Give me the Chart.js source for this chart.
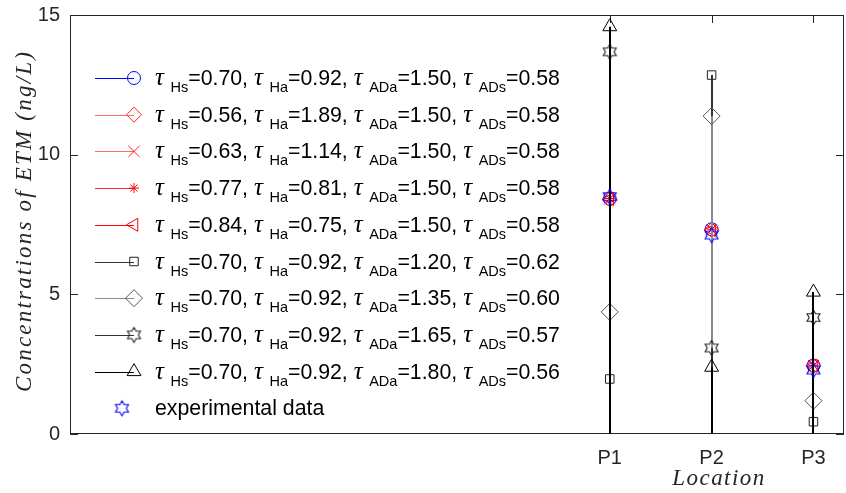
<!DOCTYPE html>
<html><head><meta charset="utf-8">
<script src="https://cdn.jsdelivr.net/npm/chart.js@4/dist/chart.umd.min.js"></script>
<style>html,body{margin:0;padding:0;background:#fff;}#wrap{width:846px;height:493px;}</style>
</head><body><div id="wrap"><canvas id="c" width="846" height="493"></canvas></div>
<script>
// ---- data ----
const locations = ['P1', 'P2', 'P3'];
const tauHs  = [0.70, 0.56, 0.63, 0.77, 0.84, 0.70, 0.70, 0.70, 0.70];
const tauHa  = [0.92, 1.89, 1.14, 0.81, 0.75, 0.92, 0.92, 0.92, 0.92];
const tauADa = [1.50, 1.50, 1.50, 1.50, 1.50, 1.20, 1.35, 1.65, 1.80];
const tauADs = [0.58, 0.58, 0.58, 0.58, 0.58, 0.62, 0.60, 0.57, 0.56];
const run1 = [8.42, 7.33, 2.45];
const run2 = [8.40, 7.30, 2.44];
const run3 = [8.42, 7.31, 2.45];
const run4 = [8.43, 7.33, 2.46];
const run5 = [8.41, 7.30, 2.44];
const run6 = [1.97, 12.85, 0.44];
const run7 = [4.37, 11.38, 1.19];
const run8 = [13.68, 3.08, 4.17];
const run9 = [14.58, 2.39, 5.08];
const experimental = [8.50, 7.12, 2.29];
const expLabel = 'experimental data';
const xTitle = 'Location';
const yTitle = 'Concentrations of ETM (ng/L)';

// ---- hexagram marker ----
function hexagram(color, r) {
  const s = Math.ceil(r * 2 + 4);
  const c = document.createElement('canvas');
  c.width = s; c.height = s;
  const g = c.getContext('2d');
  const cx = s / 2, cy = s / 2, ri = r * 0.577;
  g.beginPath();
  for (let k = 0; k < 12; k++) {
    const a = -Math.PI / 2 + k * Math.PI / 6;
    const rr = k % 2 === 0 ? r : ri;
    const px = cx + rr * Math.cos(a), py = cy + rr * Math.sin(a);
    if (k === 0) g.moveTo(px, py); else g.lineTo(px, py);
  }
  g.closePath();
  g.strokeStyle = color; g.lineWidth = 1.1; g.stroke();
  return c;
}

const runs = [run1, run2, run3, run4, run5, run6, run7, run8, run9];
const styles = [
  {stem: '#0000ff', mk: '#0000ff', ps: 'circle', r: 6.5, rot: 0},
  {stem: '#ff6a6a', mk: '#ff2020', ps: 'rectRot', r: 7.5, rot: 0},
  {stem: '#ff6a6a', mk: '#ff2020', ps: 'crossRot', r: 8, rot: 0},
  {stem: '#ff2a2a', mk: '#ff0000', ps: 'star', r: 5, rot: 0},
  {stem: '#ff0000', mk: '#ff0000', ps: 'triangle', r: 7.5, rot: -90},
  {stem: '#333333', mk: '#222222', ps: 'rect', r: 6, rot: 0},
  {stem: '#8a8a8a', mk: '#555555', ps: 'rectRot', r: 8.5, rot: 0},
  {stem: '#333333', mk: '#222222', ps: hexagram('#222222', 7.5), r: 8, rot: 0},
  {stem: '#000000', mk: '#000000', ps: 'triangle', r: 8, rot: 0}
];
const toXY = arr => arr.map((v, i) => ({x: i + 1, y: v}));
const datasets = runs.map((arr, i) => ({
  label: 'run' + (i + 1),
  data: toXY(arr),
  stem: true,
  stemColor: styles[i].stem,
  pointStyle: styles[i].ps,
  pointRadius: styles[i].r,
  pointRotation: styles[i].rot,
  pointBorderColor: styles[i].mk,
  pointBackgroundColor: 'rgba(0,0,0,0)',
  pointBorderWidth: 1,
  showLine: false,
  order: 20 - i
}));
datasets.push({
  label: expLabel,
  data: toXY(experimental),
  stem: false,
  pointStyle: hexagram('#0000ff', 7.5),
  pointRadius: 8,
  pointBorderColor: '#0000ff',
  pointBackgroundColor: 'rgba(0,0,0,0)',
  pointBorderWidth: 1,
  showLine: false,
  order: 0
});

const AX = '#262626';
function spacedText(ctx, text, font, target) {
  ctx.font = font;
  ctx.letterSpacing = '0px';
  const w = ctx.measureText(text).width;
  const sp = (target - w) / Math.max(1, text.length - 1);
  ctx.letterSpacing = sp.toFixed(2) + 'px';
}
const plug = {
  id: 'matlabLook',
  beforeDatasetsDraw(chart) {
    const {ctx, chartArea: a, scales} = chart;
    ctx.save();
    ctx.strokeStyle = AX; ctx.lineWidth = 1;
    ctx.strokeRect(Math.round(a.left) + 0.5, Math.round(a.top) + 0.5,
                   Math.round(a.right - a.left) - 1, Math.round(a.bottom - a.top) - 1);
    const tl = 8;
    ctx.beginPath();
    scales.y.ticks.forEach(t => {
      const y = Math.round(scales.y.getPixelForValue(t.value)) + 0.5;
      ctx.moveTo(a.left, y); ctx.lineTo(a.left + tl, y);
      ctx.moveTo(a.right, y); ctx.lineTo(a.right - tl, y);
    });
    scales.x.ticks.forEach(t => {
      const x = Math.round(scales.x.getPixelForValue(t.value)) + 0.5;
      ctx.moveTo(x, a.bottom); ctx.lineTo(x, a.bottom - tl);
      ctx.moveTo(x, a.top); ctx.lineTo(x, a.top + tl);
    });
    ctx.stroke();
    ctx.restore();
  },
  beforeDatasetDraw(chart, args) {
    const ds = chart.data.datasets[args.index];
    if (!ds.stem) return;
    const ctx = chart.ctx;
    const y0 = chart.scales.y.getPixelForValue(0);
    ctx.save();
    ctx.strokeStyle = ds.stemColor; ctx.lineWidth = 2;
    args.meta.data.forEach(pt => {
      const x = Math.round(pt.x);
      ctx.beginPath(); ctx.moveTo(x, y0); ctx.lineTo(x, pt.y); ctx.stroke();
    });
    ctx.restore();
  },
  afterDraw(chart) {
    const ctx = chart.ctx;
    ctx.save();
    // legend
    const rowY0 = 78, rowH = 36.7;
    const mainFont = '21.3px "Liberation Sans", Arial, sans-serif';
    const subFont = '14.5px "Liberation Sans", Arial, sans-serif';
    const tauFont = 'italic 25px "Liberation Serif", serif';
    const tauAdv = 15.5;
    chart.data.datasets.forEach((ds, i) => {
      const yc = rowY0 + i * rowH;
      ctx.lineWidth = 1;
      if (ds.stem) {
        ctx.strokeStyle = ds.stemColor;
        ctx.beginPath(); ctx.moveTo(95, Math.round(yc) + 0.5); ctx.lineTo(134, Math.round(yc) + 0.5); ctx.stroke();
      }
      const mx = ds.stem ? 134 : 122;
      ctx.strokeStyle = ds.pointBorderColor; ctx.fillStyle = 'rgba(0,0,0,0)';
      Chart.helpers.drawPoint(ctx, {pointStyle: ds.pointStyle, rotation: ds.pointRotation || 0,
        radius: ds.pointRadius, borderWidth: 1}, mx, yc);
      ctx.fillStyle = '#000'; ctx.textBaseline = 'alphabetic'; ctx.textAlign = 'left';
      let x = 155;
      if (!ds.stem) {
        ctx.font = mainFont; ctx.fillText(ds.label, x, yc + 7);
        return;
      }
      const parts = [
        ['τ', 'tau'], ['Hs', 'sub'], ['=' + tauHs[i].toFixed(2) + ', ', 'main'],
        ['τ', 'tau'], ['Ha', 'sub'], ['=' + tauHa[i].toFixed(2) + ', ', 'main'],
        ['τ', 'tau'], ['ADa', 'sub'], ['=' + tauADa[i].toFixed(2) + ', ', 'main'],
        ['τ', 'tau'], ['ADs', 'sub'], ['=' + tauADs[i].toFixed(2), 'main']
      ];
      parts.forEach(([t, k]) => {
        if (k === 'tau') {
          ctx.font = tauFont; ctx.fillText(t, x, yc + 7); x += tauAdv;
        } else if (k === 'sub') {
          ctx.font = subFont; ctx.fillText(t, x, yc + 14); x += ctx.measureText(t).width;
        } else {
          ctx.font = mainFont; ctx.fillText(t, x, yc + 7); x += ctx.measureText(t).width;
        }
      });
    });
    // axis titles
    ctx.fillStyle = '#262626';
    ctx.textAlign = 'center'; ctx.textBaseline = 'middle';
    spacedText(ctx, xTitle, 'italic 23px "Liberation Serif", serif', 92);
    ctx.fillText(xTitle, 719, 479);
    spacedText(ctx, yTitle, 'italic 23px "Liberation Serif", serif', 340);
    ctx.translate(25, 221);
    ctx.rotate(-Math.PI / 2);
    ctx.fillText(yTitle, 0, 0);
    ctx.restore();
  }
};

new Chart(document.getElementById('c'), {
  type: 'scatter',
  data: {datasets},
  options: {
    responsive: false,
    devicePixelRatio: 1,
    animation: false,
    layout: {autoPadding: false, padding: {top: 15, right: 2, left: 0, bottom: 0}},
    plugins: {legend: {display: false}, tooltip: {enabled: false}},
    scales: {
      x: {
        type: 'linear', min: -4.3, max: 3.3,
        afterBuildTicks: s => { s.ticks = locations.map((_, i) => ({value: i + 1})); },
        ticks: {callback: v => locations[v - 1], color: '#262626',
                font: {family: '"Liberation Sans", Arial, sans-serif', size: 20}, padding: 12, maxRotation: 0},
        grid: {display: false, drawTicks: false},
        border: {display: false},
        afterFit: s => { s.height = 59; s.paddingLeft = 0; s.paddingRight = 0; }
      },
      y: {
        min: 0, max: 15,
        ticks: {stepSize: 5, color: '#262626',
                font: {family: '"Liberation Sans", Arial, sans-serif', size: 20}, padding: 10},
        grid: {display: false, drawTicks: false},
        border: {display: false},
        afterFit: s => { s.width = 70; s.paddingTop = 0; s.paddingBottom = 0; }
      }
    }
  },
  plugins: [plug]
});
</script>
</body></html>
